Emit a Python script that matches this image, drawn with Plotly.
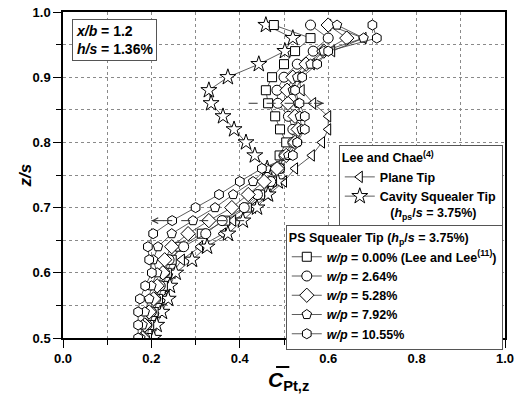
import plotly.graph_objects as go

# ---------------- data ----------------
z_levels = [0.50, 0.52, 0.54, 0.56, 0.58, 0.60, 0.62, 0.64, 0.66, 0.68, 0.70, 0.72,
            0.74, 0.76, 0.78, 0.80, 0.82, 0.84, 0.86, 0.88, 0.90, 0.92, 0.94, 0.96, 0.98]

plane_tip = [0.200, 0.205, 0.215, 0.228, 0.235, 0.248, 0.269, 0.310, 0.362, 0.385, 0.430, 0.465,
             0.500, 0.525, 0.563, 0.586, 0.600, 0.600, 0.566, 0.540, 0.532, 0.563, 0.609, 0.680, 0.600]
cavity_tip = [0.205, 0.212, 0.224, 0.238, 0.242, 0.255, 0.292, 0.326, 0.373, 0.407, 0.439, 0.464,
              0.486, 0.462, 0.434, 0.414, 0.387, 0.362, 0.335, 0.330, 0.373, 0.443, 0.502, 0.520, 0.459]
wp_000 = [0.190, 0.195, 0.205, 0.215, 0.226, 0.235, 0.246, 0.265, 0.314, 0.367, 0.416, 0.446,
          0.473, 0.490, 0.490, 0.505, 0.491, 0.480, 0.464, 0.459, 0.473, 0.500, 0.525, 0.560, 0.477]
wp_264 = [0.185, 0.190, 0.200, 0.210, 0.220, 0.230, 0.240, 0.273, 0.323, 0.360, 0.410, 0.440,
          0.470, 0.490, 0.500, 0.520, 0.520, 0.510, 0.486, 0.484, 0.500, 0.530, 0.566, 0.600, 0.560]
wp_528 = [0.180, 0.185, 0.195, 0.205, 0.213, 0.226, 0.230, 0.246, 0.283, 0.330, 0.382, 0.419,
          0.455, 0.484, 0.505, 0.525, 0.532, 0.525, 0.509, 0.507, 0.520, 0.550, 0.590, 0.642, 0.600]
wp_792 = [0.175, 0.180, 0.185, 0.195, 0.200, 0.213, 0.204, 0.215, 0.246, 0.294, 0.344, 0.385,
          0.430, 0.460, 0.510, 0.530, 0.540, 0.536, 0.532, 0.520, 0.530, 0.560, 0.590, 0.680, 0.620]
wp_1055 = [0.170, 0.170, 0.170, 0.174, 0.186, 0.201, 0.195, 0.192, 0.204, 0.247, 0.300, 0.353,
           0.400, 0.450, 0.520, 0.530, 0.547, 0.547, 0.535, 0.525, 0.541, 0.575, 0.600, 0.710, 0.700]

arrow_up_x = [0.42, 0.59]
arrow_up_z = [0.86, 0.86]
arrow_low_x = [0.41, 0.20]
arrow_low_z = [0.68, 0.68]

x_ticks = [0.0, 0.2, 0.4, 0.6, 0.8, 1.0]
y_ticks = [0.5, 0.6, 0.7, 0.8, 0.9, 1.0]

FONT = "Liberation Sans, Arial, sans-serif"
GRID = "#8a8a8a"

fig = go.Figure()

def add_series(x, name, symbol, size, legend):
    fig.add_trace(go.Scatter(
        x=x, y=z_levels, mode="lines+markers", name=name, legend=legend,
        line=dict(color="#333333", width=0.8),
        marker=dict(symbol=symbol, size=size, color="white",
                    line=dict(color="black", width=1)),
    ))

add_series(plane_tip, "<b>Plane Tip</b>", "triangle-left", 10, "legend")
add_series(cavity_tip, "<b>Cavity Squealer Tip</b><br>   <b>(<i>h</i><sub>ps</sub>/<i>s</i> = 3.75%)</b>", "star", 12, "legend")
add_series(wp_000, "<b><i>w/p</i> = 0.00% (Lee and Lee<sup>(11)</sup>)</b>", "square", 9, "legend2")
add_series(wp_264, "<b><i>w/p</i> = 2.64%</b>", "circle", 10, "legend2")
add_series(wp_528, "<b><i>w/p</i> = 5.28%</b>", "diamond", 11, "legend2")
add_series(wp_792, "<b><i>w/p</i> = 7.92%</b>", "pentagon", 10, "legend2")
add_series(wp_1055, "<b><i>w/p</i> = 10.55%</b>", "hexagon", 10, "legend2")

# dashed trend arrows
for ax_, az_ in [(arrow_up_x, arrow_up_z), (arrow_low_x, arrow_low_z)]:
    fig.add_trace(go.Scatter(x=ax_, y=az_, mode="lines", showlegend=False, hoverinfo="skip",
                             line=dict(color="#333333", width=1, dash="dash")))
    fig.add_annotation(x=ax_[1], y=az_[1], ax=ax_[1] - (ax_[1] - ax_[0]) * 0.15, ay=az_[1],
                       axref="x", ayref="y", xref="x", yref="y", text="",
                       showarrow=True, arrowhead=5, arrowsize=1.1, arrowwidth=1, arrowcolor="#333333")

axis_common = dict(
    showgrid=True, gridcolor=GRID, griddash="dot", gridwidth=1,
    ticks="outside", ticklen=8, tickcolor="black", tickwidth=1.2,
    showline=True, linecolor="black", linewidth=1.5, mirror=True,
    zeroline=False, tickfont=dict(size=13, family=FONT, color="black"), automargin=False,
)

fig.update_layout(
    template="none",
    width=517, height=394,
    margin=dict(l=63, r=12, t=12, b=56),
    paper_bgcolor="white", plot_bgcolor="white",
    font=dict(family=FONT, size=12.5, color="black"),
    xaxis=dict(range=[0, 1], tickvals=x_ticks, ticktext=[f"<b>{v:.1f}</b>" for v in x_ticks],
               minor=dict(dtick=0.1, showgrid=True, gridcolor=GRID, griddash="dot",
                          ticks="outside", ticklen=5, tickcolor="black"),
               **axis_common),
    yaxis=dict(range=[0.5, 1.0], tickvals=y_ticks, ticktext=[f"<b>{v:.1f}</b>" for v in y_ticks],
               minor=dict(dtick=0.05, showgrid=True, gridcolor=GRID, griddash="dot",
                          ticks="outside", ticklen=5, tickcolor="black"),
               **axis_common),
    legend=dict(x=0.995, y=0.592, xanchor="right", yanchor="top",
                bgcolor="white", bordercolor="#555555", borderwidth=1,
                title=dict(text="<b>Lee and Chae<sup>(4)</sup></b>", font=dict(size=12.5)),
                font=dict(size=12.5), valign="top", itemwidth=30, tracegroupgap=0),
    legend2=dict(x=0.995, y=0.347, xanchor="right", yanchor="top",
                 bgcolor="white", bordercolor="#555555", borderwidth=1,
                 title=dict(text="<b>PS Squealer Tip (<i>h</i><sub>p</sub>/<i>s</i> = 3.75%)</b>", font=dict(size=12.5)),
                 font=dict(size=12.5), itemwidth=30, tracegroupgap=0),
    showlegend=True,
)

# info box
fig.add_annotation(x=0.02, y=0.978, xref="paper", yref="paper", xanchor="left", yanchor="top",
                   text="<b><i>x/b</i> = 1.2</b><br><b><i>h/s</i> = 1.36%</b>",
                   showarrow=False, align="left", font=dict(size=14),
                   bgcolor="white", bordercolor="#555555", borderwidth=1, borderpad=3)

# axis titles
fig.add_annotation(x=0.51, y=-0.085, xref="paper", yref="paper", xanchor="center", yanchor="top",
                   text="<b><i>C</i></b><sub><b>Pt,z</b></sub>", showarrow=False, font=dict(size=21))
fig.add_shape(type="line", xref="paper", yref="paper", x0=0.482, x1=0.512, y0=-0.089, y1=-0.089,
              line=dict(color="black", width=2))
fig.add_annotation(x=-0.085, y=0.5, xref="paper", yref="paper", xanchor="center", yanchor="middle",
                   text="<b><i>z/s</i></b>", textangle=-90, showarrow=False, font=dict(size=17))

fig.write_html("out.html", config={"displayModeBar": False},
               post_script="document.body.style.margin='0';")
